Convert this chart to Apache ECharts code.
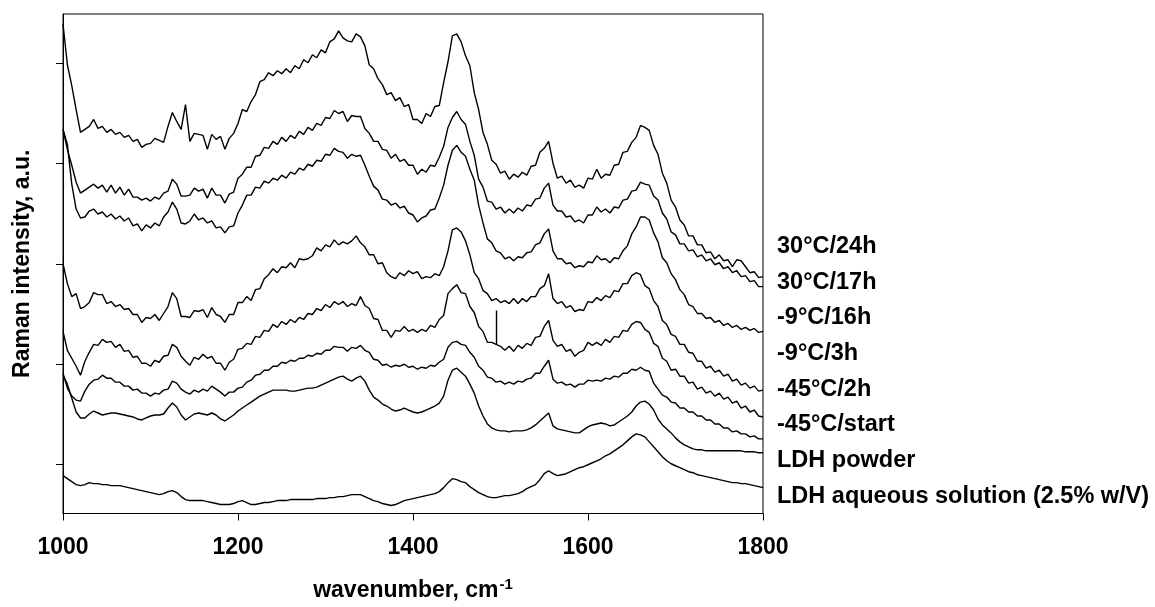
<!DOCTYPE html>
<html>
<head>
<meta charset="utf-8">
<script src="https://cdn.jsdelivr.net/npm/echarts/dist/echarts.min.js"></script>
<style>
html,body{margin:0;padding:0;background:#ffffff;}
#chart{width:1155px;height:607px;}
</style>
</head>
<body>
<div id="chart"></div>
<script>
// x sampling grid (cm-1), 5 cm-1 steps from 1000 to 1800
const wavenumbers = Array.from({length: 161}, (_, i) => 1000 + 5 * i);
const xTicks = [1000, 1200, 1400, 1600, 1800];
const yTicks = [49, 150, 250, 352, 453];
const seriesNames = ['30°C/24h', '30°C/17h', '-9°C/16h', '-9°C/3h', '-45°C/2h', '-45°C/start', 'LDH powder', 'LDH aqueous solution (2.5% w/V)'];

// Raman intensity (a.u., stacked offsets as plotted)
const s30C24h = [492,451,430,406,383,386,389,396,387,389,
383,386,381,383,378,380,374,376,368,371,
372,377,375,373,389,403,394,386,411,374,
382,381,380,366,381,376,379,366,377,382,
392,406,404,414,421,434,436,443,440,445,
442,447,443,450,447,456,453,461,458,466,
463,474,477,485,478,475,474,482,479,470,
451,447,437,431,421,423,415,418,409,411,
396,396,392,402,399,409,410,433,454,480,
482,474,460,450,423,406,383,371,355,351,
342,344,336,341,338,343,340,349,350,363,
367,374,352,337,339,332,335,328,330,327,
337,336,346,337,341,340,350,351,363,364,
373,378,390,388,385,370,361,342,332,315,
308,295,290,279,279,270,270,262,263,256,
260,254,255,248,255,254,248,242,243,237,
238];
const s30C17h = [386,366,350,333,322,325,328,331,327,330,
323,330,322,328,320,326,318,318,315,317,
314,318,316,322,324,336,331,319,319,320,
327,324,326,317,327,320,320,312,321,323,
337,341,348,348,359,360,368,367,374,371,
378,374,380,377,384,381,388,385,392,390,
398,397,405,402,404,394,400,399,399,387,
382,374,374,366,365,357,361,354,356,350,
350,341,346,343,350,349,358,369,388,398,
404,396,391,374,360,336,328,314,313,306,
308,302,306,302,307,304,310,309,316,317,
327,332,310,304,304,298,299,293,295,292,
300,300,308,303,306,302,308,307,315,316,
324,325,333,331,330,319,315,302,296,283,
280,271,271,264,265,258,260,254,256,250,
252,246,248,242,244,238,239,233,234,228,
228];
const sM9C16h = [386,371,331,306,297,298,304,306,301,303,
298,301,296,299,294,297,289,291,284,290,
287,292,289,298,303,313,306,292,291,294,
301,295,297,292,294,287,288,282,288,289,
302,310,320,320,328,327,334,332,337,335,
340,337,343,341,347,345,351,349,355,354,
361,360,367,364,363,357,361,359,360,350,
339,329,325,316,315,310,312,307,309,302,
300,293,297,299,305,306,317,330,350,365,
370,363,359,346,335,310,292,276,272,264,
262,256,258,254,258,257,262,263,270,272,
281,286,264,256,256,251,252,247,249,248,
253,252,259,255,256,252,257,256,264,269,
281,288,298,298,295,282,273,257,252,241,
235,225,220,210,208,201,201,196,197,192,
194,189,191,187,189,185,187,184,186,182,
183];
const sM9C3h = [251,231,218,221,206,208,212,222,220,220,
211,213,208,210,205,206,200,200,192,197,
196,200,194,201,208,222,216,198,198,197,
204,203,205,197,207,200,198,192,200,200,
212,212,218,214,225,226,236,240,246,242,
248,247,252,247,256,255,256,259,267,264,
270,268,275,270,273,271,274,279,272,268,
260,260,251,252,242,238,236,242,239,244,
241,243,236,238,237,241,239,248,264,285,
287,283,274,260,242,236,224,221,214,216,
212,214,211,216,211,216,213,218,218,226,
229,241,216,211,213,207,209,203,205,204,
213,212,217,214,219,217,224,223,231,231,
239,242,240,229,226,214,208,194,190,180,
178,170,170,162,161,153,153,146,148,142,
144,138,140,133,135,129,131,126,128,123,
124];
const sM45C2h = [183,164,156,148,139,153,162,170,169,175,
172,173,167,170,163,164,157,158,151,151,
148,154,152,158,159,170,167,158,153,149,
157,155,160,156,158,151,151,144,152,155,
165,166,171,170,178,177,184,183,190,187,
193,190,195,192,197,195,201,200,206,204,
210,207,213,210,213,208,211,209,218,209,
206,196,195,184,184,177,184,183,188,183,
185,182,185,183,189,187,195,199,221,226,
230,222,221,208,202,188,183,172,172,170,
168,164,168,163,169,166,171,169,177,178,
188,194,174,168,170,163,165,158,162,164,
172,169,172,169,175,172,178,177,184,183,
190,193,192,185,182,171,168,156,153,144,
145,138,138,131,132,125,127,121,123,118,
121,115,117,111,113,106,108,102,104,98,
97];
// narrow cosmic-ray spike on the -45°C/2h trace: [wavenumber, base, top]
const spike45C2h = [1495, 170, 204];
const sM45Cstart = [141,126,118,114,113,123,130,134,135,139,
136,136,132,132,128,128,124,125,121,121,
118,121,120,124,125,133,131,125,122,120,
124,122,125,123,128,125,122,118,122,122,
126,127,132,134,139,140,144,144,148,148,
152,151,154,153,156,156,159,158,161,160,
164,164,168,167,167,163,167,166,169,164,
162,155,154,149,150,147,149,148,150,147,
148,145,147,146,149,148,152,155,167,172,
173,170,169,162,157,148,144,137,136,132,
133,130,132,130,133,132,135,136,141,141,
148,154,135,131,132,129,130,127,130,130,
134,133,134,133,136,135,138,137,141,141,
145,144,147,144,143,131,125,119,117,112,
111,106,106,102,102,98,98,94,94,90,
90,86,86,82,83,80,80,77,78,75,
75];
const sLDHpowder = [139,130,116,102,96,96,100,103,101,99,
100,101,101,100,99,98,97,95,94,96,
98,99,99,100,106,111,107,99,94,97,
100,101,100,99,101,99,95,93,96,99,
103,106,109,112,115,118,120,122,124,124,
124,124,123,123,124,125,126,126,127,129,
131,133,135,137,138,135,133,136,138,133,
124,117,114,110,108,105,103,104,106,104,
102,101,102,104,106,108,111,118,134,144,
146,142,138,130,121,108,98,90,86,84,
83,83,82,83,83,83,84,86,89,93,
97,101,88,85,84,83,82,81,81,84,
87,89,90,91,90,88,89,92,95,98,
102,108,112,113,110,104,95,89,85,81,
76,72,69,67,65,64,64,63,63,63,
63,63,63,63,63,63,62,62,62,61,
61];
const sLDHsolution = [38,35,32,29,28,29,31,30,30,29,
29,28,28,28,27,26,25,24,23,22,
21,20,19,20,22,23,21,17,14,13,
13,13,13,12,11,10,9,9,9,10,
12,13,11,9,9,10,11,11,12,13,
13,13,14,14,14,14,14,14,15,15,
15,16,16,17,17,18,19,19,19,17,
15,13,12,10,9,8,9,11,13,14,
15,16,17,18,19,20,22,26,31,35,
34,32,31,27,24,21,19,17,16,16,
17,18,18,19,20,22,25,27,29,34,
40,43,40,38,39,40,42,44,46,47,
49,51,53,55,58,60,63,66,69,73,
77,80,79,77,72,67,62,57,53,50,
48,46,44,42,41,39,38,37,36,35,
34,33,32,31,31,30,30,29,28,27,
26];

const allSeries = [s30C24h, s30C17h, sM9C16h, sM9C3h, sM45C2h, sM45Cstart, sLDHpowder, sLDHsolution];

const FONT = '"Liberation Sans", Arial, Helvetica, sans-serif';
const chart = echarts.init(document.getElementById('chart'), null, {renderer: 'canvas'});

const labelX = 777, labelY0 = 246.5, labelStep = 35.7;
const labelGraphics = seriesNames.map((name, i) => ({
  type: 'text',
  x: labelX,
  y: labelY0 + i * labelStep,
  silent: true,
  style: {
    text: name,
    fill: '#000',
    font: 'bold 23.5px ' + FONT,
    align: 'left',
    verticalAlign: 'middle'
  }
}));

const lineStyle = {color: '#000', width: 1.4};

chart.setOption({
  animation: false,
  backgroundColor: '#ffffff',
  grid: {left: 63, top: 14, width: 700, height: 502, show: true, borderColor: '#000', borderWidth: 1, backgroundColor: 'transparent'},
  xAxis: {
    type: 'value', min: xTicks[0], max: xTicks[xTicks.length - 1], interval: 200,
    axisLine: {show: true, onZero: false, lineStyle: {color: '#000', width: 1}},
    axisTick: {show: true, inside: false, length: 7, lineStyle: {color: '#000', width: 1}},
    axisLabel: {show: true, margin: 23, color: '#000', fontSize: 23, fontWeight: 'bold', fontFamily: FONT,
      formatter: v => String(v)},
    splitLine: {show: false},
    name: '{a|wavenumber, cm}{b|-1}',
    nameLocation: 'middle', nameGap: 64,
    nameTextStyle: {
      rich: {
        a: {fontSize: 23, lineHeight: 26, fontWeight: 'bold', fontFamily: FONT, color: '#000'},
        b: {fontSize: 15, lineHeight: 13, fontWeight: 'bold', fontFamily: FONT, color: '#000', verticalAlign: 'top', padding: [0, 0, 0, 1]}
      }
    }
  },
  yAxis: {
    type: 'value', min: 0, max: 502,
    axisLine: {show: true, onZero: false, lineStyle: {color: '#000', width: 1}},
    axisTick: {show: true, inside: false, length: 7, customValues: yTicks, lineStyle: {color: '#000', width: 1}},
    axisLabel: {show: false},
    splitLine: {show: false},
    name: 'Raman intensity, a.u.',
    nameLocation: 'middle', nameGap: 29, nameRotate: 90,
    nameTextStyle: {fontSize: 23, fontWeight: 'bold', fontFamily: FONT, color: '#000'}
  },
  graphic: labelGraphics,
  series: allSeries.map((vals, k) => {
    const s = {
      name: seriesNames[k],
      type: 'line',
      showSymbol: false,
      symbol: 'none',
      silent: true,
      clip: true,
      lineStyle: lineStyle,
      data: wavenumbers.map((w, i) => [w, vals[i]])
    };
    if (vals === sM45C2h) {
      s.markLine = {
        silent: true, symbol: 'none', animation: false,
        label: {show: false},
        lineStyle: {color: '#000', width: 1.4, type: 'solid'},
        data: [[{coord: [spike45C2h[0], spike45C2h[1]]}, {coord: [spike45C2h[0], spike45C2h[2]]}]]
      };
    }
    return s;
  })
});
</script>
</body>
</html>
